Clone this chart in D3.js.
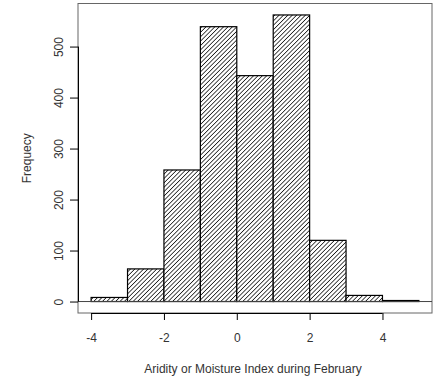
<!DOCTYPE html>
<html>
<head>
<meta charset="utf-8">
<script src="https://cdn.jsdelivr.net/npm/d3@7"></script>
<style>
  body { margin: 0; background: #fff; }
  svg { display: block; font-family: "Liberation Sans", Arial, sans-serif; }
</style>
</head>
<body>
<svg width="435" height="377"></svg>
<script>
var binStarts = [-4, -3, -2, -1, 0, 1, 2, 3, 4];
var binWidth = 1;
var counts = [8, 64, 258, 539, 443, 562, 120, 12, 2];
var xTicks = [-4, -2, 0, 2, 4];
var yTicks = [0, 100, 200, 300, 400, 500];
var xTitle = "Aridity or Moisture Index during February";
var yTitle = "Frequecy";

var svg = d3.select("svg");
var boxLeft = 78, boxRight = 432, boxTop = 3.5, boxBottom = 313;

// R style 4% padding around the data range
var xMin = binStarts[0], xMax = binStarts[binStarts.length - 1] + binWidth;
var xPad = (xMax - xMin) * 0.04;
var yMax = d3.max(counts);
var yPad = yMax * 0.04;

var x = d3.scaleLinear().domain([xMin - xPad, xMax + xPad]).range([boxLeft, boxRight]);
var y = d3.scaleLinear().domain([-yPad, yMax + yPad]).range([boxBottom, boxTop]);

var defs = svg.append("defs");
var pat = defs.append("pattern")
    .attr("id", "hatch")
    .attr("patternUnits", "userSpaceOnUse")
    .attr("width", 3.1)
    .attr("height", 3.1)
    .attr("patternTransform", "rotate(45)");
pat.append("rect").attr("width", 3.1).attr("height", 3.1).attr("fill", "#fff");
pat.append("line")
    .attr("x1", 0).attr("y1", 0).attr("x2", 0).attr("y2", 3.1)
    .attr("stroke", "#000").attr("stroke-width", 1.4);

// plot box
svg.append("rect")
    .attr("x", boxLeft).attr("y", boxTop)
    .attr("width", boxRight - boxLeft).attr("height", boxBottom - boxTop)
    .attr("fill", "none").attr("stroke", "#666").attr("stroke-width", 1);

// bars
svg.append("g").selectAll("rect")
    .data(counts).enter().append("rect")
    .attr("x", function (d, i) { return x(binStarts[i]); })
    .attr("width", function (d, i) { return x(binStarts[i] + binWidth) - x(binStarts[i]); })
    .attr("y", function (d) { return y(d); })
    .attr("height", function (d) { return y(0) - y(d); })
    .attr("fill", "url(#hatch)")
    .attr("stroke", "#000")
    .attr("stroke-width", 1.2);

// zero line
svg.append("line")
    .attr("x1", boxLeft).attr("x2", boxRight)
    .attr("y1", y(0)).attr("y2", y(0))
    .attr("stroke", "#444").attr("stroke-width", 1);

// x axis
var xAxis = svg.append("g")
    .attr("transform", "translate(0," + boxBottom + ")")
    .call(d3.axisBottom(x).tickValues(xTicks).tickSize(7).tickPadding(13)
        .tickFormat(function (d) { return d < 0 ? "-" + Math.abs(d) : d; }));
xAxis.select(".domain").attr("d", "M" + x(xTicks[0]) + ",0.5H" + x(xTicks[xTicks.length - 1]))
    .attr("stroke", "#000");
xAxis.selectAll("line").attr("stroke", "#000");
xAxis.selectAll("text").attr("font-size", 12).attr("fill", "#333")
    .attr("font-family", "Liberation Sans, Arial, sans-serif");

// y axis
var yAxis = svg.append("g")
    .attr("transform", "translate(" + boxLeft + ",0)")
    .call(d3.axisLeft(y).tickValues(yTicks).tickSize(8).tickFormat(d3.format("d")));
yAxis.select(".domain").attr("d", "M0.5," + y(yTicks[0]) + "V" + y(yTicks[yTicks.length - 1]))
    .attr("stroke", "#000");
yAxis.selectAll("line").attr("stroke", "#000");
yAxis.selectAll("text")
    .attr("font-size", 12).attr("fill", "#333")
    .attr("font-family", "Liberation Sans, Arial, sans-serif")
    .attr("x", null).attr("dy", null)
    .attr("text-anchor", "middle")
    .attr("transform", "translate(-15.5,0) rotate(-90)");

// titles
svg.append("text")
    .attr("x", (boxLeft + boxRight) / 2 - 2).attr("y", 373)
    .attr("text-anchor", "middle")
    .attr("font-size", 12).attr("fill", "#333")
    .text(xTitle);

svg.append("text")
    .attr("transform", "translate(31," + ((boxTop + boxBottom) / 2) + ") rotate(-90)")
    .attr("text-anchor", "middle")
    .attr("font-size", 12).attr("fill", "#333")
    .text(yTitle);
</script>
</body>
</html>
